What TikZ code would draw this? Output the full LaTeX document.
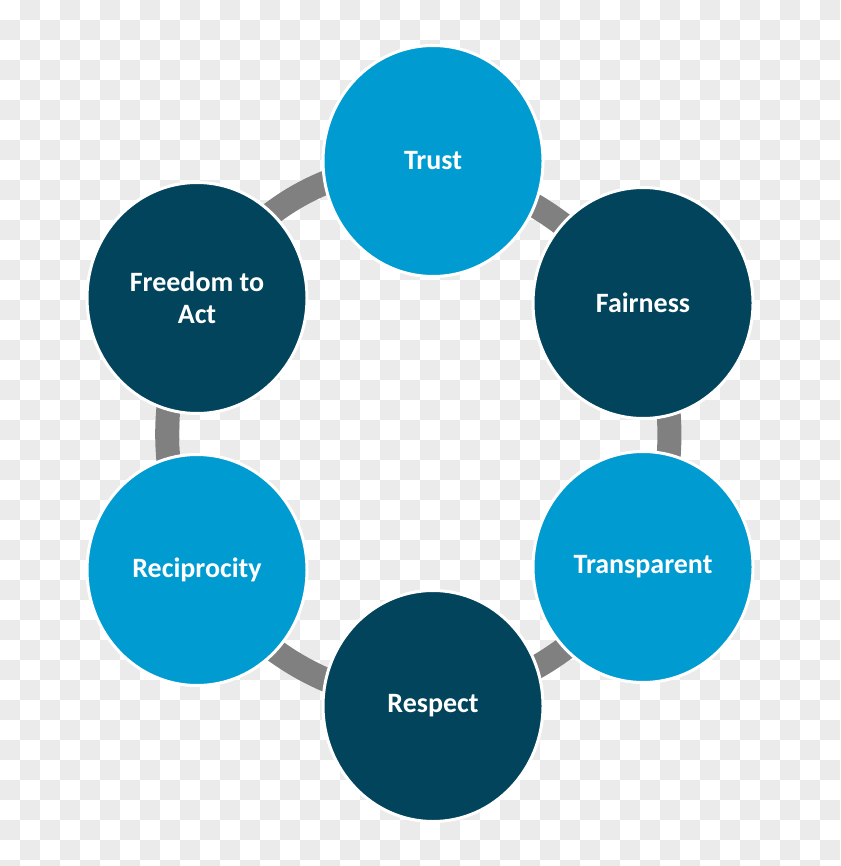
\documentclass[tikz,border=0pt]{standalone}
\usepackage{fontspec}
\setmainfont{Carlito}
\usetikzlibrary{shapes.geometric,backgrounds}
\definecolor{lightblue}{HTML}{009BD0}
\definecolor{darkteal}{HTML}{01445C}
\definecolor{ringgrey}{HTML}{808080}
\definecolor{checkgrey}{HTML}{EBEBEB}
\begin{document}
\begin{tikzpicture}[x=1pt,y=-1pt]
	\tikzstyle{vertex}=[ellipse,draw=white,line width=3pt,minimum width=220pt,minimum height=231pt,inner sep=0pt,text=white,align=center,font=\fontsize{28}{32}\selectfont\bfseries]
	\tikzstyle{lightvertex}=[vertex,fill=lightblue]
	\tikzstyle{darkvertex}=[vertex,fill=darkteal]
	\tikzstyle{ring}=[draw=ringgrey,line width=24pt]
	\useasboundingbox (0,0) rectangle (840,866);
	% checkerboard behind everything
	\begin{scope}[on background layer]
		\clip (0,0) rectangle (840,866);
		\foreach \x in {0,40,...,800}
			\foreach \y in {0,40,...,840}{
				\fill[checkgrey] (\x+20,\y) rectangle ++(20,20);
				\fill[checkgrey] (\x,\y+20) rectangle ++(20,20);
			}
	\end{scope}
	\node[lightvertex](trust) at (433,161){Trust};
	\node[darkvertex](fairness) at (643,303){Fairness};
	\node[lightvertex](transparent) at (643,567){Transparent};
	\node[darkvertex](respect) at (433,706){Respect};
	\node[lightvertex](reciprocity) at (197,570){Reciprocity};
	\node[darkvertex](freedom) at (197,298){Freedom to\\Act};
	% grey ring pieces between the circles
	\begin{scope}[on background layer]
		\path[ring]
			(trust.center) edge[bend left=16] (fairness.center)
			(fairness.center) edge[bend left=20] (transparent.center)
			(transparent.center) edge[bend left=20] (respect.center)
			(respect.center) edge[bend left=24] (reciprocity.center)
			(reciprocity.center) edge[bend left=22] (freedom.center)
			(freedom.center) edge[bend left=28] (trust.center);
	\end{scope}
\end{tikzpicture}
\end{document}
